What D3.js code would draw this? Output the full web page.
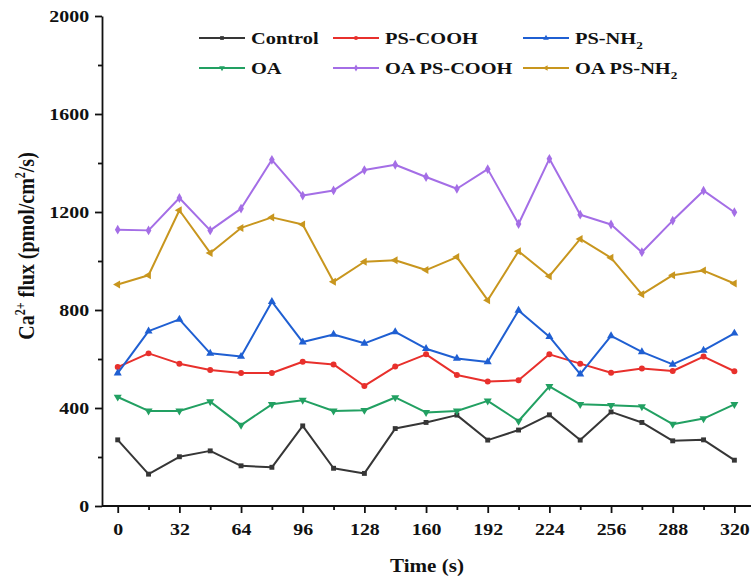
<!DOCTYPE html>
<html>
<head>
<meta charset="utf-8">
<script src="https://cdn.jsdelivr.net/npm/d3@7/dist/d3.min.js"></script>
<style>
  body { margin: 0; background: #fff; }
  svg { display: block; }
  text { font-family: "Liberation Serif", "Times New Roman", serif; font-weight: bold; fill: #111; }
</style>
</head>
<body>
<svg id="chart" width="751" height="581"></svg>
<script>
// time points (s)
const times = [0, 16, 32, 48, 64, 80, 96, 112, 128, 144, 160, 176, 192, 208, 224, 240, 256, 272, 288, 304, 320];

// Ca2+ flux values (pmol/cm2/s)
const control = [270, 130, 201, 225, 164, 158, 327, 154, 133, 316, 341, 371, 269, 310, 372, 269, 384, 341, 266, 270, 187];
const psCooh = [567, 623, 581, 555, 543, 543, 589, 578, 490, 569, 619, 535, 508, 513, 619, 581, 544, 561, 551, 610, 550];
const psNh2 = [542, 714, 762, 623, 610, 834, 669, 700, 664, 711, 642, 602, 588, 798, 691, 538, 694, 629, 578, 635, 705];
const oa = [445, 388, 388, 426, 330, 415, 432, 388, 391, 443, 382, 388, 429, 347, 488, 415, 411, 406, 334, 357, 415];
const oaPsCooh = [1128, 1125, 1257, 1125, 1214, 1413, 1267, 1288, 1371, 1393, 1343, 1295, 1375, 1151, 1417, 1189, 1149, 1036, 1165, 1287, 1199];
const oaPsNh2 = [904, 942, 1207, 1033, 1135, 1178, 1149, 915, 997, 1003, 963, 1016, 840, 1040, 938, 1090, 1013, 864, 942, 961, 908];

const xTicks = [0, 32, 64, 96, 128, 160, 192, 224, 256, 288, 320];
const xMinorTicks = [16, 48, 80, 112, 144, 176, 208, 240, 272, 304];
const yTicks = [0, 400, 800, 1200, 1600, 2000];
const yMinorTicks = [200, 600, 1000, 1400, 1800];

const series = [
  { name: 'Control', sub: null, values: control, color: '#363636', shape: 'square' },
  { name: 'PS-COOH', sub: null, values: psCooh, color: '#e8302c', shape: 'circle' },
  { name: 'PS-NH', sub: '2', values: psNh2, color: '#1f5fd2', shape: 'up' },
  { name: 'OA', sub: null, values: oa, color: '#22a062', shape: 'down' },
  { name: 'OA PS-COOH', sub: null, values: oaPsCooh, color: '#a46ee6', shape: 'diamond' },
  { name: 'OA PS-NH', sub: '2', values: oaPsNh2, color: '#c8961e', shape: 'left' }
];

// the original figure is stretched horizontally, text too
const stretch = 1.17;

const svg = d3.select('#chart');

const x = d3.scaleLinear().domain([-8, 328]).range([102.3, 749.8]);
const y = d3.scaleLinear().domain([0, 2000]).range([506, 16]);

function markerPath(shape, size) {
  const sym = {
    square: d3.symbolSquare, circle: d3.symbolCircle, up: d3.symbolTriangle,
    down: d3.symbolTriangle, diamond: d3.symbolDiamond, left: d3.symbolTriangle
  }[shape];
  return d3.symbol(sym, size)();
}
function markerRot(shape) {
  if (shape === 'down') return 180;
  if (shape === 'left') return -90;
  return 0;
}

// Axes
const xAxis = d3.axisBottom(x).tickValues(xTicks).tickSize(7).tickSizeOuter(0).tickPadding(10);
const xMinor = d3.axisBottom(x).tickValues(xMinorTicks).tickSize(4).tickSizeOuter(0).tickFormat('');
const yAxis = d3.axisLeft(y).tickValues(yTicks).tickFormat(d3.format('d')).tickSize(7).tickSizeOuter(0).tickPadding(4);
const yMinor = d3.axisLeft(y).tickValues(yMinorTicks).tickSize(4).tickSizeOuter(0).tickFormat('');

const gx = svg.append('g').attr('transform', 'translate(0,506)').call(xAxis);
svg.append('g').attr('transform', 'translate(0,506)').call(xMinor).select('.domain').remove();
const gy = svg.append('g').attr('transform', 'translate(102,0)').call(yAxis);
svg.append('g').attr('transform', 'translate(102,0)').call(yMinor).select('.domain').remove();

svg.selectAll('.domain, .tick line').attr('stroke', '#111').attr('stroke-width', 1.8);
gx.select('.domain').attr('d', 'M102,0H751');
gx.selectAll('.tick text')
  .attr('font-size', 17)
  .attr('transform', `scale(${stretch},1)`);
gy.selectAll('.tick text')
  .attr('font-size', 17)
  .attr('dy', '0.34em')
  .attr('transform', `scale(${stretch},1)`);

// Axis titles
svg.append('text')
  .attr('transform', `translate(427,572) scale(${stretch},1)`)
  .attr('text-anchor', 'middle')
  .attr('font-size', 18)
  .text('Time (s)');

const yTitle = svg.append('text')
  .attr('transform', `translate(34,246) rotate(-90) scale(1,${stretch})`)
  .attr('text-anchor', 'middle')
  .attr('font-size', 20);
yTitle.append('tspan').text('Ca');
yTitle.append('tspan').attr('font-size', 12).attr('dy', -8).text('2+');
yTitle.append('tspan').attr('dy', 8).text(' flux (pmol/cm');
yTitle.append('tspan').attr('font-size', 12).attr('dy', -8).text('2');
yTitle.append('tspan').attr('dy', 8).text('/s)');

// Lines
const line = d3.line()
  .x((d, i) => x(times[i]))
  .y(d => y(d));

const plot = svg.append('g');
series.forEach(s => {
  plot.append('path')
    .datum(s.values)
    .attr('fill', 'none')
    .attr('stroke', s.color)
    .attr('stroke-width', 2)
    .attr('stroke-linejoin', 'round')
    .attr('d', line);
  plot.selectAll(null)
    .data(s.values)
    .enter()
    .append('path')
    .attr('d', markerPath(s.shape, s.shape === 'square' ? 24 : 28))
    .attr('fill', s.color)
    .attr('transform', (d, i) => `translate(${x(times[i])},${y(d)}) rotate(${markerRot(s.shape)})`);
});

// Legend
const legendCols = [199, 333, 523];
const legendRows = [38, 68];
series.forEach((s, i) => {
  const lx = legendCols[i % 3];
  const ly = legendRows[Math.floor(i / 3)];
  const g = svg.append('g').attr('transform', `translate(${lx},${ly})`);
  g.append('line')
    .attr('x1', 0).attr('x2', 46)
    .attr('stroke', s.color).attr('stroke-width', 2);
  g.append('path')
    .attr('d', markerPath(s.shape, 14))
    .attr('fill', s.color)
    .attr('transform', `translate(23,0) rotate(${markerRot(s.shape)})`);
  const t = g.append('text')
    .attr('transform', `translate(52,0) scale(1.2,1)`)
    .attr('dy', '0.35em')
    .attr('font-size', 17);
  t.append('tspan').text(s.name);
  if (s.sub) {
    t.append('tspan').attr('font-size', 11).attr('dy', 5).text(s.sub);
  }
});
</script>
</body>
</html>
